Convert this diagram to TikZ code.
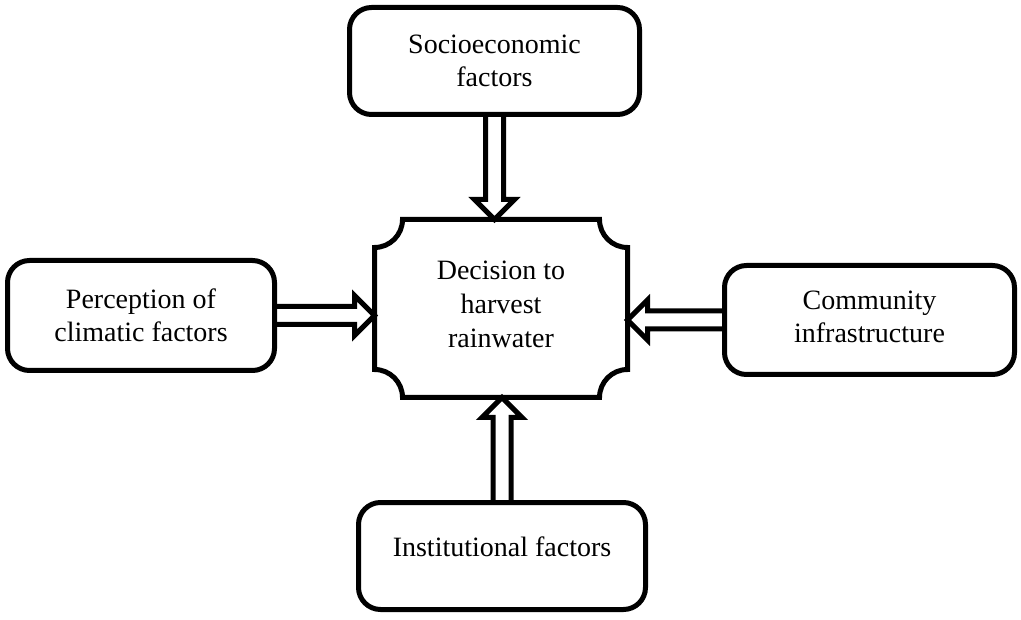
\documentclass[tikz,border=0pt]{standalone}
\usepackage{fontspec}
\setmainfont{Liberation Serif}
\usepackage{tikz}
\usetikzlibrary{calc}

\begin{document}
\begin{tikzpicture}[x=1pt, y=-1pt,
            factor/.style={draw, line width=5pt, rounded corners=22pt, align=center, font=\fontsize{28}{33}\selectfont},
            hollow/.style={draw, line width=5pt, line join=miter}]
            \useasboundingbox (0,0) rectangle (1021,620);

            \node[factor, minimum width=290pt, minimum height=107pt] (soc) at (494.5, 61) {Socioeconomic\\factors};
            \node[factor, minimum width=267pt, minimum height=110pt] (perc) at (141, 315.5) {Perception of\\climatic factors};
            \node[factor, minimum width=290pt, minimum height=109pt, text depth=7pt] (comm) at (869.5, 320) {Community\\infrastructure};
            \node[factor, minimum width=287pt, minimum height=107pt, text depth=19pt] (inst) at (502, 556) {Institutional factors};
            \node[align=center, font=\fontsize{28}{34}\selectfont, minimum width=253pt, minimum height=178pt, outer sep=0pt, text depth=9pt] (dec) at (501, 308.5) {Decision to\\harvest\\rainwater};

            \draw[line width=5pt] ($(dec.north west)+(28,0)$) -- ($(dec.north east)+(-28,0)$)
                arc[start angle=180, end angle=90, radius=28] -- ($(dec.south east)+(0,-28)$)
                arc[start angle=270, end angle=180, radius=28] -- ($(dec.south west)+(28,0)$)
                arc[start angle=0, end angle=-90, radius=28] -- ($(dec.north west)+(0,28)$)
                arc[start angle=90, end angle=0, radius=28] -- cycle;

            \draw[hollow] ($(soc.south)+(-9,0)$) -- ($(soc.south |- dec.north)+(-9,-20)$) -- ++(-11,0)
                -- (soc.south |- dec.north) -- ++(20,-20) -- ++(-11,0) -- ($(soc.south)+(9,0)$);
            \draw[hollow] ($(perc.east)+(0,-9)$) -- ($(perc.east -| dec.west)+(-20,-9)$) -- ++(0,-11)
                -- (perc.east -| dec.west) -- ++(-20,20) -- ++(0,-11) -- ($(perc.east)+(0,9)$);
            \draw[hollow] ($(comm.west)+(0,-9)$) -- ($(comm.west -| dec.east)+(20,-9)$) -- ++(0,-11)
                -- (comm.west -| dec.east) -- ++(20,20) -- ++(0,-11) -- ($(comm.west)+(0,9)$);
            \draw[hollow] ($(inst.north)+(-9,0)$) -- ($(inst.north |- dec.south)+(-9,20)$) -- ++(-11,0)
                -- (inst.north |- dec.south) -- ++(20,20) -- ++(-11,0) -- ($(inst.north)+(9,0)$);

            \end{tikzpicture}
\end{document}
